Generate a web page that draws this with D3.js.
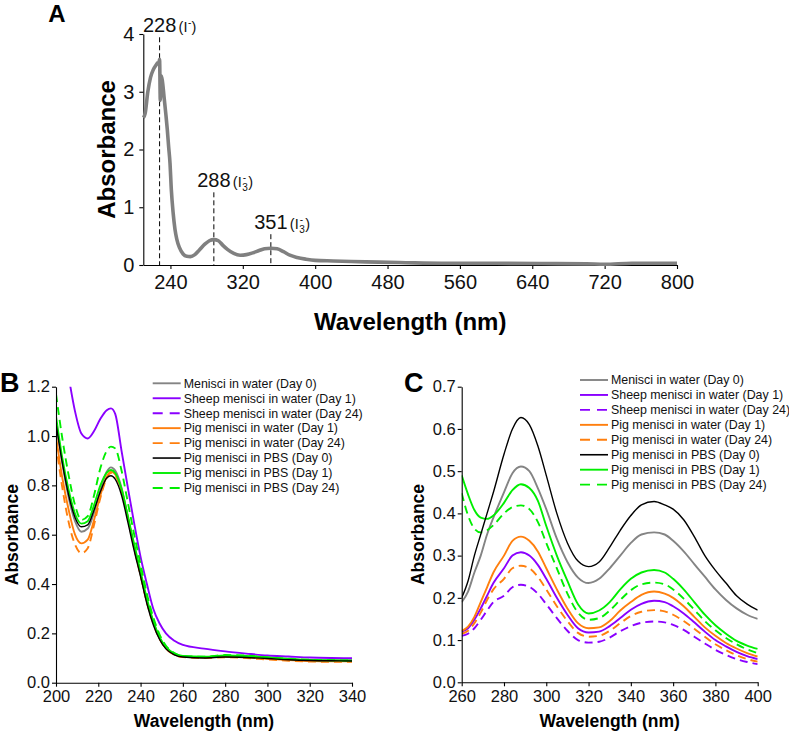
<!DOCTYPE html>
<html>
<head>
<meta charset="utf-8">
<script src="https://cdn.jsdelivr.net/npm/d3@7"></script>
<style>
  html, body { margin: 0; padding: 0; background: #fff; }
  svg { display: block; font-family: "Liberation Sans", Arial, sans-serif; }
</style>
</head>
<body>
<svg id="chart" width="789" height="733"></svg>
<script>
// ---------------- Panel A data ----------------
const wlA = [210, 212, 215, 218, 221, 224, 226, 227, 228, 228.8, 229.5, 231, 233, 235, 236.5, 238, 239.5, 241, 243, 245, 247, 250, 254, 258, 262, 267, 272, 278, 283, 288, 293, 298, 303, 310, 317, 324, 331, 338, 344, 351, 358, 365, 372, 380, 390, 400, 420, 440, 470, 500, 540, 600, 650, 700, 720, 750, 800];
const absA = [2.55, 2.62, 3.0, 3.25, 3.38, 3.46, 3.5, 3.48, 3.56, 2.85, 3.28, 3.2, 2.9, 2.6, 2.35, 2.05, 1.77, 1.3, 0.9, 0.62, 0.45, 0.3, 0.19, 0.15, 0.145, 0.18, 0.26, 0.36, 0.42, 0.44, 0.42, 0.34, 0.27, 0.2, 0.17, 0.18, 0.21, 0.25, 0.28, 0.29, 0.28, 0.23, 0.17, 0.13, 0.1, 0.08, 0.07, 0.06, 0.05, 0.04, 0.03, 0.03, 0.025, 0.02, 0.012, 0.03, 0.03];
const peakWl = [228, 288, 351];
const peakLabelY = [4.03, 1.345, 0.62];   // label baseline (absorbance units)
const peakIon = ["minus", "tri", "tri"];
const ticksAx = [240, 320, 400, 480, 560, 640, 720, 800];
const ticksAy = [0, 1, 2, 3, 4];

// ---------------- Panel B / C shared legend ----------------
const seriesNames = [
  "Menisci in water (Day 0)",
  "Sheep menisci in water (Day 1)",
  "Sheep menisci in water (Day 24)",
  "Pig menisci in water (Day 1)",
  "Pig menisci in water (Day 24)",
  "Pig menisci in PBS (Day 0)",
  "Pig menisci in PBS (Day 1)",
  "Pig menisci in PBS (Day 24)"
];
const seriesColors = ["#848484", "#8a00ff", "#8a00ff", "#ff7f0e", "#ff7f0e", "#000000", "#00ee00", "#00ee00"];
const seriesDashed = [false, false, true, false, true, false, false, true];

// ---------------- Panel B data ----------------
const wlB = [200, 203, 206, 209, 212, 215, 218, 221, 224, 226, 228, 231, 234, 237, 240, 243, 246, 249, 252, 256, 260, 270, 280, 290, 300, 310, 320, 330, 340];
const bGrayDay0     = [1.06, 0.89, 0.75, 0.655, 0.612, 0.625, 0.69, 0.78, 0.855, 0.873, 0.86, 0.79, 0.67, 0.55, 0.44, 0.33, 0.245, 0.18, 0.14, 0.115, 0.106, 0.103, 0.107, 0.105, 0.1, 0.095, 0.091, 0.09, 0.09];
const bSheepDay1    = [1.55, 1.4, 1.24, 1.1, 1.01, 0.99, 1.02, 1.07, 1.105, 1.112, 1.09, 0.94, 0.79, 0.645, 0.51, 0.4, 0.3, 0.24, 0.2, 0.17, 0.153, 0.138, 0.127, 0.118, 0.11, 0.106, 0.102, 0.1, 0.099];
const bSheepDay24   = [1.55, 1.4, 1.24, 1.1, 1.01, 0.99, 1.02, 1.07, 1.105, 1.112, 1.09, 0.94, 0.79, 0.645, 0.51, 0.4, 0.3, 0.24, 0.2, 0.17, 0.153, 0.138, 0.127, 0.118, 0.11, 0.106, 0.102, 0.1, 0.099];
const bPigWaterD1   = [1.0, 0.83, 0.7, 0.6, 0.565, 0.58, 0.66, 0.76, 0.835, 0.855, 0.845, 0.78, 0.67, 0.55, 0.44, 0.33, 0.245, 0.18, 0.14, 0.115, 0.105, 0.102, 0.105, 0.103, 0.097, 0.092, 0.088, 0.087, 0.087];
const bPigWaterD24  = [0.97, 0.79, 0.65, 0.56, 0.525, 0.545, 0.64, 0.75, 0.83, 0.85, 0.84, 0.775, 0.665, 0.545, 0.435, 0.325, 0.24, 0.178, 0.138, 0.113, 0.104, 0.1, 0.103, 0.1, 0.094, 0.089, 0.086, 0.085, 0.085];
const bPigPBSD0     = [1.05, 0.89, 0.76, 0.67, 0.632, 0.64, 0.7, 0.775, 0.83, 0.839, 0.825, 0.76, 0.65, 0.535, 0.43, 0.32, 0.235, 0.175, 0.137, 0.113, 0.104, 0.1, 0.104, 0.102, 0.098, 0.093, 0.09, 0.089, 0.088];
const bPigPBSD1     = [1.08, 0.91, 0.78, 0.685, 0.645, 0.655, 0.72, 0.8, 0.852, 0.862, 0.85, 0.785, 0.675, 0.56, 0.45, 0.34, 0.25, 0.185, 0.145, 0.118, 0.108, 0.105, 0.11, 0.108, 0.102, 0.096, 0.092, 0.091, 0.09];
const bPigPBSD24    = [1.17, 0.99, 0.84, 0.72, 0.66, 0.675, 0.76, 0.87, 0.94, 0.957, 0.95, 0.86, 0.73, 0.6, 0.48, 0.36, 0.265, 0.195, 0.15, 0.12, 0.108, 0.105, 0.112, 0.11, 0.103, 0.097, 0.093, 0.091, 0.09];
const seriesBshown = [true, true, false, true, true, true, true, true];
const ticksBx = [200, 220, 240, 260, 280, 300, 320, 340];
const ticksBy = [0, 0.2, 0.4, 0.6, 0.8, 1.0, 1.2];

// ---------------- Panel C data ----------------
const wlC = [260, 263, 266, 269, 272, 275, 280, 284, 288, 292, 296, 300, 305, 310, 315, 320, 325, 330, 335, 340, 345, 351, 356, 360, 365, 370, 375, 380, 385, 390, 395, 400];
const cGrayDay0    = [0.19, 0.215, 0.26, 0.3, 0.35, 0.39, 0.45, 0.495, 0.511, 0.5, 0.46, 0.41, 0.34, 0.285, 0.248, 0.235, 0.245, 0.27, 0.3, 0.33, 0.35, 0.355, 0.35, 0.335, 0.31, 0.28, 0.25, 0.22, 0.195, 0.175, 0.16, 0.15];
const cSheepDay1   = [0.12, 0.128, 0.148, 0.175, 0.205, 0.235, 0.27, 0.3, 0.308, 0.3, 0.278, 0.245, 0.2, 0.16, 0.128, 0.118, 0.12, 0.133, 0.152, 0.172, 0.186, 0.193, 0.19, 0.18, 0.163, 0.142, 0.12, 0.1, 0.085, 0.072, 0.062, 0.055];
const cSheepDay24  = [0.11, 0.115, 0.128, 0.148, 0.17, 0.19, 0.205, 0.225, 0.231, 0.226, 0.21, 0.185, 0.152, 0.122, 0.1, 0.094, 0.096, 0.106, 0.121, 0.133, 0.141, 0.144, 0.142, 0.136, 0.124, 0.108, 0.092, 0.077, 0.065, 0.055, 0.048, 0.043];
const cPigWaterD1  = [0.122, 0.132, 0.155, 0.19, 0.225, 0.26, 0.3, 0.335, 0.345, 0.335, 0.31, 0.27, 0.22, 0.175, 0.14, 0.128, 0.13, 0.145, 0.17, 0.19, 0.207, 0.215, 0.21, 0.2, 0.18, 0.155, 0.13, 0.11, 0.093, 0.08, 0.069, 0.061];
const cPigWaterD24 = [0.115, 0.122, 0.14, 0.165, 0.195, 0.22, 0.245, 0.27, 0.276, 0.27, 0.25, 0.22, 0.18, 0.145, 0.117, 0.108, 0.11, 0.122, 0.14, 0.157, 0.167, 0.171, 0.168, 0.16, 0.145, 0.127, 0.108, 0.09, 0.076, 0.064, 0.055, 0.049];
const cPigPBSD0    = [0.2, 0.24, 0.3, 0.35, 0.4, 0.45, 0.54, 0.6, 0.627, 0.61, 0.56, 0.49, 0.4, 0.33, 0.287, 0.274, 0.285, 0.32, 0.36, 0.395, 0.42, 0.428, 0.42, 0.41, 0.385, 0.345, 0.3, 0.265, 0.235, 0.205, 0.185, 0.171];
const cPigPBSD1    = [0.49, 0.445, 0.408, 0.39, 0.387, 0.395, 0.425, 0.455, 0.469, 0.46, 0.43, 0.37, 0.3, 0.24, 0.185, 0.163, 0.17, 0.19, 0.22, 0.245, 0.26, 0.266, 0.26, 0.245, 0.22, 0.19, 0.16, 0.135, 0.115, 0.098, 0.087, 0.079];
const cPigPBSD24   = [0.448, 0.395, 0.364, 0.355, 0.36, 0.372, 0.4, 0.415, 0.419, 0.41, 0.38, 0.33, 0.27, 0.21, 0.165, 0.148, 0.152, 0.17, 0.195, 0.218, 0.232, 0.236, 0.232, 0.22, 0.198, 0.172, 0.145, 0.123, 0.105, 0.09, 0.078, 0.069];
const ticksCx = [260, 280, 300, 320, 340, 360, 380, 400];
const ticksCy = [0, 0.1, 0.2, 0.3, 0.4, 0.5, 0.6, 0.7];

const seriesB = [bGrayDay0, bSheepDay1, bSheepDay24, bPigWaterD1, bPigWaterD24, bPigPBSD0, bPigPBSD1, bPigPBSD24];
const seriesC = [cGrayDay0, cSheepDay1, cSheepDay24, cPigWaterD1, cPigWaterD24, cPigPBSD0, cPigPBSD1, cPigPBSD24];

// ================= Drawing =================
const svg = d3.select("#chart");
const FONT = '"Liberation Sans", Arial, sans-serif';

function styleAxis(g, fontSize) {
  g.selectAll("path.domain").attr("stroke", "#000").attr("stroke-width", 1.1);
  g.selectAll(".tick line").attr("stroke", "#000").attr("stroke-width", 1.1);
  g.selectAll(".tick text").attr("fill", "#111").style("font-size", fontSize + "px").style("font-family", FONT);
}

// ---------- Panel A ----------
const xA = d3.scaleLinear().domain([210, 800]).range([143.3, 677]);
const yA = d3.scaleLinear().domain([0, 4]).range([265, 34]);

const gA = svg.append("g");
gA.append("g").attr("transform", "translate(0,265)")
  .call(d3.axisBottom(xA).tickValues(ticksAx).tickSize(4).tickPadding(6).tickSizeOuter(0))
  .call(g => styleAxis(g, 20));
gA.append("g").attr("transform", "translate(143.3,0)")
  .call(d3.axisLeft(yA).tickValues(ticksAy).tickSize(4).tickPadding(5).tickSizeOuter(0).tickFormat(d3.format("d")))
  .call(g => styleAxis(g, 20));

// dashed markers
peakWl.forEach((w, i) => {
  gA.append("line")
    .attr("x1", xA(w)).attr("x2", xA(w))
    .attr("y1", yA(peakLabelY[i]) + 5).attr("y2", yA(0))
    .attr("stroke", "#000").attr("stroke-width", 1).attr("stroke-dasharray", "5,3");
});

gA.append("path")
  .datum(wlA.map((w, i) => [w, absA[i]]))
  .attr("fill", "none").attr("stroke", "#808080").attr("stroke-width", 3.6)
  .attr("stroke-linejoin", "round")
  .attr("d", d3.line().x(d => xA(d[0])).y(d => yA(d[1])).curve(d3.curveMonotoneX));

peakWl.forEach((w, i) => {
  const by = yA(peakLabelY[i]);
  gA.append("text").attr("x", xA(w)).attr("y", by).attr("text-anchor", "middle")
    .style("font-size", "20px").attr("fill", "#111").text(w);
  const x0 = xA(w) + 19;
  const open = gA.append("text").attr("x", x0).attr("y", by).style("font-size", "14.5px").attr("fill", "#111").text("(I");
  const wOpen = open.node().getComputedTextLength();
  if (peakIon[i] === "minus") {
    gA.append("text").attr("x", x0 + wOpen + 0.5).attr("y", by - 6).style("font-size", "10px").attr("fill", "#111").text("-");
    gA.append("text").attr("x", x0 + wOpen + 4).attr("y", by).style("font-size", "14.5px").attr("fill", "#111").text(")");
  } else {
    gA.append("text").attr("x", x0 + wOpen + 0.5).attr("y", by + 4).style("font-size", "10px").attr("fill", "#111").text("3");
    gA.append("text").attr("x", x0 + wOpen + 1).attr("y", by - 6).style("font-size", "10px").attr("fill", "#111").text("-");
    gA.append("text").attr("x", x0 + wOpen + 6.5).attr("y", by).style("font-size", "14.5px").attr("fill", "#111").text(")");
  }
});

gA.append("text").attr("x", 57).attr("y", 22).attr("text-anchor", "middle")
  .style("font-size", "24px").style("font-weight", "bold").text("A");
gA.append("text").attr("transform", `translate(115,${(yA(0) + yA(4)) / 2}) rotate(-90)`)
  .attr("text-anchor", "middle").style("font-size", "24px").style("font-weight", "bold").text("Absorbance");
gA.append("text").attr("x", (xA(210) + xA(800)) / 2).attr("y", 330).attr("text-anchor", "middle")
  .style("font-size", "24px").style("font-weight", "bold").text("Wavelength (nm)");

// ---------- Panels B & C ----------
function drawPanel(opts) {
  const { xDom, xRange, yDom, yRange, wl, series, shown, ticksX, ticksY, yFmt, letter, letterX, legendX, legendY, clipId } = opts;
  const x = d3.scaleLinear().domain(xDom).range(xRange);
  const y = d3.scaleLinear().domain(yDom).range(yRange);
  const g = svg.append("g");

  g.append("clipPath").attr("id", clipId).append("rect")
    .attr("x", xRange[0]).attr("y", yRange[1]).attr("width", xRange[1] - xRange[0]).attr("height", yRange[0] - yRange[1]);

  const line = d3.line().x(d => x(d[0])).y(d => y(d[1])).curve(d3.curveMonotoneX);
  const order = [0, 1, 2, 3, 4, 7, 6, 5];
  order.forEach(i => {
    if (!shown[i]) return;
    g.append("path")
      .datum(wl.map((w, k) => [w, series[i][k]]))
      .attr("clip-path", `url(#${clipId})`)
      .attr("fill", "none").attr("stroke", seriesColors[i])
      .attr("stroke-width", i === 5 ? 1.4 : 1.9)
      .attr("stroke-dasharray", seriesDashed[i] ? "8,5" : null)
      .attr("d", line);
  });

  g.append("g").attr("transform", `translate(0,${yRange[0]})`)
    .call(d3.axisBottom(x).tickValues(ticksX).tickSize(4).tickPadding(4).tickSizeOuter(0))
    .call(a => styleAxis(a, 16.5));
  g.append("g").attr("transform", `translate(${xRange[0]},0)`)
    .call(d3.axisLeft(y).tickValues(ticksY).tickSize(4).tickPadding(2).tickSizeOuter(0).tickFormat(d3.format(yFmt)))
    .call(a => styleAxis(a, 16.5));

  g.append("text").attr("x", letterX).attr("y", yRange[1] + 5).attr("text-anchor", "start")
    .style("font-size", "27px").style("font-weight", "bold").text(letter);
  g.append("text").attr("transform", `translate(${xRange[0] - 38},${(yRange[0] + yRange[1]) / 2}) rotate(-90)`)
    .attr("text-anchor", "middle").style("font-size", "17.5px").style("font-weight", "bold").text("Absorbance");
  g.append("text").attr("x", (xRange[0] + xRange[1]) / 2).attr("y", 727).attr("text-anchor", "middle")
    .style("font-size", "17.5px").style("font-weight", "bold").text("Wavelength (nm)");

  const lg = g.append("g");
  seriesNames.forEach((name, i) => {
    const yy = legendY + i * 14.95;
    lg.append("line").attr("x1", legendX).attr("x2", legendX + 28).attr("y1", yy).attr("y2", yy)
      .attr("stroke", seriesColors[i]).attr("stroke-width", i === 5 ? 1.6 : 1.9)
      .attr("stroke-dasharray", seriesDashed[i] ? "10,7" : null);
    lg.append("text").attr("x", legendX + 31).attr("y", yy).attr("dy", "0.35em")
      .style("font-size", "12.4px").attr("fill", "#111").text(name);
  });
}

drawPanel({
  xDom: [200, 340], xRange: [56, 352], yDom: [0, 1.2], yRange: [682.7, 386.7],
  wl: wlB, series: seriesB, shown: seriesBshown, ticksX: ticksBx, ticksY: ticksBy, yFmt: ".1f",
  letter: "B", letterX: 0, legendX: 152.7, legendY: 383.3, clipId: "clipB"
});
drawPanel({
  xDom: [260, 400], xRange: [461.7, 757.7], yDom: [0, 0.7], yRange: [682.3, 386.7],
  wl: wlC, series: seriesC, shown: [true, true, true, true, true, true, true, true], ticksX: ticksCx, ticksY: ticksCy, yFmt: ".1f",
  letter: "C", letterX: 404, legendX: 580, legendY: 380, clipId: "clipC"
});
</script>
</body>
</html>
